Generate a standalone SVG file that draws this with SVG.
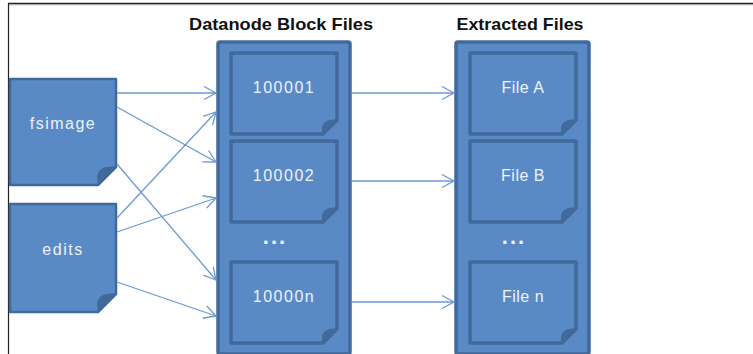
<svg xmlns="http://www.w3.org/2000/svg" width="753" height="354" viewBox="0 0 753 354">
<defs>
<style>
.outer{fill:#5A8AC6;stroke:#41699B;stroke-width:3.5}
.box{fill:#5A8AC6;stroke:#41699B;stroke-width:3.5;stroke-linejoin:round}
.fold{fill:#41699B}
.lbl{font-family:"Liberation Sans",Arial,sans-serif;font-size:16px;fill:#EEF2FA;text-anchor:middle;letter-spacing:1.5px}
.title{font-family:"Liberation Sans",Arial,sans-serif;font-size:17px;font-weight:bold;fill:#111;text-anchor:middle}
.dots{font-family:"Liberation Sans",Arial,sans-serif;font-size:22px;font-weight:bold;fill:#EEF2FA;text-anchor:middle;letter-spacing:2px}
.conn line{stroke:#6A9AD2;stroke-width:1.3;marker-end:url(#arr)}
</style>
<marker id="arr" markerUnits="userSpaceOnUse" markerWidth="16" markerHeight="16" viewBox="-14 -8 16 16" refX="0" refY="0" orient="auto">
<path d="M-12,-6.5 L0,0 L-12,6.5" fill="none" stroke="#6A9AD2" stroke-width="1.3"/>
</marker>
</defs>
<rect width="753" height="354" fill="#fff"/>
<line x1="8" y1="3.5" x2="753" y2="3.5" stroke="#222" stroke-width="1.5"/>
<line x1="8" y1="4.8" x2="753" y2="4.8" stroke="#999" stroke-width="0.8"/>
<line x1="8.5" y1="3" x2="8.5" y2="354" stroke="#222" stroke-width="1.2"/>

<text class="title" x="281" y="29.5" textLength="184" lengthAdjust="spacingAndGlyphs">Datanode Block Files</text>
<text class="title" x="520" y="29.5" textLength="127" lengthAdjust="spacingAndGlyphs">Extracted Files</text>

<g id="fsimage">
<path class="box" d="M10,79 H116 V167 L98,185 H10 Z" style="stroke-width:2.5"/>
<path class="fold" d="M117,166 L98,186 L97,176 Q99,168 106,167 Z"/>
<text class="lbl" x="63" y="129">fsimage</text>
</g>
<g id="edits">
<path class="box" d="M10,204 H116 V294 L98,312 H10 Z" style="stroke-width:2.5"/>
<path class="fold" d="M117,293 L98,313 L97,303 Q99,295 106,294 Z"/>
<text class="lbl" x="63" y="255">edits</text>
</g>

<g id="datanode">
<rect class="outer" x="218" y="42" width="132" height="312" rx="2"/>
<g id="b100001">
<path class="box" d="M231,53 H337 V120 L323,134 H231 Z"/>
<path class="fold" d="M338,119 L322,135 L322,127 Q324,121 330,120 Z"/>
<text class="lbl" x="284" y="92.5">100001</text>
</g>
<g id="b100002">
<path class="box" d="M231,141 H337 V208 L323,222 H231 Z"/>
<path class="fold" d="M338,207 L322,223 L322,215 Q324,209 330,208 Z"/>
<text class="lbl" x="284" y="180.5">100002</text>
</g>
<text class="dots" x="275" y="244">...</text>
<g id="b10000n">
<path class="box" d="M231,262 H337 V329 L323,343 H231 Z"/>
<path class="fold" d="M338,328 L322,344 L322,336 Q324,330 330,329 Z"/>
<text class="lbl" x="284" y="301.5">10000n</text>
</g>
</g>

<g id="extracted">
<rect class="outer" x="456" y="42" width="133" height="312" rx="2"/>
<g id="fileA">
<path class="box" d="M470,53 H576 V120 L562,134 H470 Z"/>
<path class="fold" d="M577,119 L561,135 L561,127 Q563,121 569,120 Z"/>
<text class="lbl" x="523" y="92.5" style="letter-spacing:0.5px">File A</text>
</g>
<g id="fileB">
<path class="box" d="M470,141 H576 V208 L562,222 H470 Z"/>
<path class="fold" d="M577,207 L561,223 L561,215 Q563,209 569,208 Z"/>
<text class="lbl" x="523" y="180.5" style="letter-spacing:0.5px">File B</text>
</g>
<text class="dots" x="514" y="244">...</text>
<g id="fileN">
<path class="box" d="M470,262 H576 V329 L562,343 H470 Z"/>
<path class="fold" d="M577,328 L561,344 L561,336 Q563,330 569,329 Z"/>
<text class="lbl" x="523" y="301.5" style="letter-spacing:0.5px">File n</text>
</g>
</g>

<g class="conn" id="connectors">
<line x1="117" y1="93" x2="216" y2="93"/>
<line x1="117" y1="107" x2="216" y2="162"/>
<line x1="117" y1="164" x2="216" y2="280"/>
<line x1="117" y1="218" x2="216" y2="112"/>
<line x1="117" y1="232" x2="216" y2="198"/>
<line x1="117" y1="282" x2="216" y2="316"/>
<line x1="351" y1="93" x2="454" y2="93"/>
<line x1="351" y1="181" x2="454" y2="181"/>
<line x1="351" y1="302" x2="454" y2="302"/>
</g>
</svg>
